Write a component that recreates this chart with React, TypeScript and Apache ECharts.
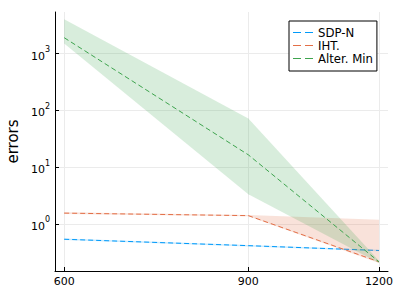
import React, { useEffect, useRef } from "react";
import * as echarts from "echarts";

const xs = [600, 900, 1200];
const xTicks = [600, 900, 1200];
const yTicks = [1, 10, 100, 1000];

const sdpMean = [0.537, 0.414, 0.34];
const sdpLo = [0.52, 0.4, 0.33];
const sdpHi = [0.555, 0.425, 0.35];

const ihtMean = [1.55, 1.4, 0.215];
const ihtLo = [1.5, 1.36, 0.205];
const ihtHi = [1.6, 1.44, 1.18];

const altMean = [1914, 16.5, 0.215];
const altLo = [1520, 3.34, 0.205];
const altHi = [4050, 72, 0.225];

const names = ["SDP-N", "IHT.", "Alter. Min"];
const colors = ["#009AFA", "#E36F47", "#3EA44E"];
const fills = ["rgba(0,154,250,0.2)", "rgba(227,111,71,0.2)", "rgba(62,164,78,0.2)"];

const FONT = "DejaVu Sans";
const DASH_ICON = "path://M0,0h8v1h-8zM12,0h8v1h-8z";

function band(name: string, lo: number[], hi: number[], fill: string, z: number) {
  return {
    type: "custom",
    name,
    z,
    data: xs.map((x, i) => [x, lo[i], hi[i]]),
    encode: { x: 0, y: [1, 2] },
    renderItem: (params: any, api: any) => {
      if (params.dataIndex !== 0) return null;
      const pts: number[][] = [];
      for (let i = 0; i < xs.length; i++) pts.push(api.coord([xs[i], hi[i]]));
      for (let i = xs.length - 1; i >= 0; i--) pts.push(api.coord([xs[i], lo[i]]));
      return { type: "polygon", shape: { points: pts }, style: { fill, stroke: "none" } };
    },
  };
}

function line(name: string, vals: number[], color: string, z: number) {
  return {
    type: "line",
    name,
    z,
    data: xs.map((x, i) => [x, vals[i]]),
    showSymbol: false,
    symbol: "none",
    lineStyle: { color, width: 1, type: [5, 3] },
    itemStyle: { color },
  };
}

export default function App() {
  const ref = useRef<HTMLDivElement>(null);
  useEffect(() => {
    const chart = echarts.init(ref.current!, null, { renderer: "svg" });
    chart.setOption({
      animation: false,
      backgroundColor: "#fff",
      textStyle: { fontFamily: FONT },
      grid: { left: 55, right: 12, top: 12, bottom: 29, containLabel: false, outerBoundsMode: "none" },
      legend: {
        data: names.map((n) => ({ name: n, icon: DASH_ICON })),
        orient: "vertical",
        left: 289,
        top: 21,
        padding: [5, 4, 6, 4],
        itemWidth: 20,
        itemHeight: 1,
        itemGap: 0,
        backgroundColor: "#fff",
        borderColor: "#000",
        borderWidth: 1,
        borderRadius: 0,
        textStyle: { fontFamily: FONT, fontSize: 11.7, color: "#000", lineHeight: 13 },
      },
      xAxis: {
        type: "log",
        logBase: 10,
        min: 588,
        max: 1224,
        axisLine: { show: true, lineStyle: { color: "#000", width: 1 } },
        axisTick: { show: true, inside: true, length: 4, customValues: xTicks, lineStyle: { color: "#000" } },
        axisLabel: {
          customValues: xTicks,
          formatter: (v: number) => String(Math.round(v)),
          fontFamily: FONT,
          fontSize: 11,
          color: "#000",
          margin: 5,
        },
        splitLine: { show: true, lineStyle: { color: "#ebebeb", width: 1 } },
      },
      yAxis: {
        type: "log",
        logBase: 10,
        min: 0.148,
        max: 5430,
        name: "errors",
        nameLocation: "middle",
        nameGap: 31,
        nameTextStyle: { fontFamily: FONT, fontSize: 15, color: "#000" },
        axisLine: { show: true, lineStyle: { color: "#000", width: 1 } },
        axisTick: { show: true, inside: true, length: 4, customValues: yTicks, lineStyle: { color: "#000" } },
        axisLabel: {
          customValues: yTicks,
          formatter: (v: number) => "{b|10}{s|" + Math.round(Math.log10(v)) + "}",
          margin: 5,
          rich: {
            b: { fontFamily: FONT, fontSize: 11, color: "#000", lineHeight: 16, verticalAlign: "bottom" },
            s: { fontFamily: FONT, fontSize: 8, color: "#000", verticalAlign: "top" },
          },
        },
        splitLine: { show: true, lineStyle: { color: "#ebebeb", width: 1 } },
      },
      series: [
        band("SDP-N band", sdpLo, sdpHi, fills[0], 1),
        line(names[0], sdpMean, colors[0], 2),
        band("IHT. band", ihtLo, ihtHi, fills[1], 3),
        line(names[1], ihtMean, colors[1], 4),
        band("Alter. Min band", altLo, altHi, fills[2], 5),
        line(names[2], altMean, colors[2], 6),
      ],
    });
    return () => chart.dispose();
  }, []);
  return <div ref={ref} style={{ width: 400, height: 300, position: "absolute", left: 0, top: 0 }} />;
}
